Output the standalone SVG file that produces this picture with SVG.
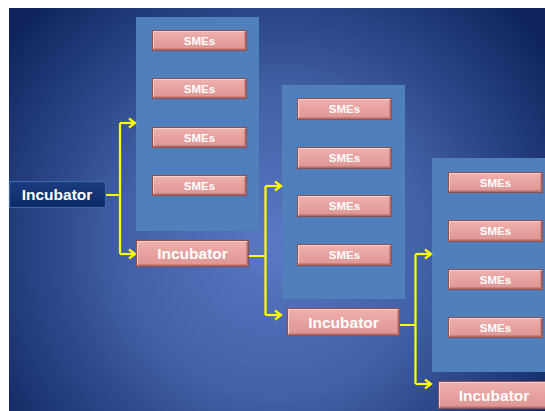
<svg xmlns="http://www.w3.org/2000/svg" width="545" height="411" viewBox="0 0 545 411">
  <defs>
    <radialGradient id="bg" gradientUnits="userSpaceOnUse" cx="275" cy="245" r="340">
      <stop offset="0" stop-color="#5a78c4"/>
      <stop offset="0.45" stop-color="#4160a6"/>
      <stop offset="1" stop-color="#0e235d"/>
    </radialGradient>
    <linearGradient id="pink" x1="0" y1="0" x2="0" y2="1">
      <stop offset="0" stop-color="#efb2af"/>
      <stop offset="0.5" stop-color="#e7a19e"/>
      <stop offset="1" stop-color="#dd9592"/>
    </linearGradient>
    <linearGradient id="navy" x1="0" y1="0" x2="0" y2="1">
      <stop offset="0" stop-color="#1a3d80"/>
      <stop offset="1" stop-color="#0d2a66"/>
    </linearGradient>
    <marker id="arr" markerUnits="userSpaceOnUse" markerWidth="14" markerHeight="14" refX="9" refY="7" orient="auto">
      <path d="M3,2.5 L9,7 L3,11.5" fill="none" stroke="#ffff00" stroke-width="2.2" stroke-linejoin="miter"/>
    </marker>
  </defs>
  <style>
    .panel { fill: #4f80bc; }
    .pk { fill: url(#pink); stroke: #8e4f4d; stroke-width: 1; }
    .hl { fill: none; stroke: #f8cfcd; stroke-width: 1; }
    .sh { fill: none; stroke: #b46d6a; stroke-width: 1.5; }
    .nv { fill: url(#navy); stroke: #3f66aa; stroke-width: 1.2; }
    .t { font-family: "Liberation Sans", Arial, sans-serif; font-weight: bold; fill: #ffffff; text-anchor: middle; }
    .s { font-size: 11.5px; }
    .i { font-size: 15.5px; }
    .c { fill: none; stroke: #ffff00; stroke-width: 2.2; }
  </style>

  <rect x="0" y="0" width="545" height="411" fill="#ffffff"/>
  <rect x="9" y="8" width="536" height="403" fill="url(#bg)"/>

  <g id="panel1">
    <rect class="panel" x="136" y="17" width="123" height="214"/>
  </g>
  <g id="panel2">
    <rect class="panel" x="282" y="85" width="123" height="214"/>
  </g>
  <g id="panel3">
    <rect class="panel" x="432" y="158" width="113" height="214"/>
  </g>

  <g id="connectors">
    <path class="c" d="M106,195 H120 M120,123 V254"/>
    <path class="c" d="M120,123 H135" marker-end="url(#arr)"/>
    <path class="c" d="M120,254 H135" marker-end="url(#arr)"/>
    <path class="c" d="M249,256 H265.5 M265.5,186 V315"/>
    <path class="c" d="M265.5,186 H281" marker-end="url(#arr)"/>
    <path class="c" d="M265.5,315 H281" marker-end="url(#arr)"/>
    <path class="c" d="M400,325 H415.5 M415.5,254 V384"/>
    <path class="c" d="M415.5,254 H431" marker-end="url(#arr)"/>
    <path class="c" d="M415.5,384 H431" marker-end="url(#arr)"/>
  </g>

  <g id="incubator0">
    <rect class="nv" x="9.5" y="181.5" width="96" height="26"/>
    <text class="t i" x="57" y="200">Incubator</text>
  </g>

  <g id="sme1a"><rect class="pk" x="152.5" y="30.5" width="94" height="20"/><path class="hl" d="M153.5,49.5 V31.5 H245.5"/><path class="sh" d="M153.5,49.2 H245.2 V31.5"/><text class="t s" x="199.5" y="44.5">SMEs</text></g>
  <g id="sme1b"><rect class="pk" x="152.5" y="78.5" width="94" height="20"/><path class="hl" d="M153.5,97.5 V79.5 H245.5"/><path class="sh" d="M153.5,97.2 H245.2 V79.5"/><text class="t s" x="199.5" y="92.5">SMEs</text></g>
  <g id="sme1c"><rect class="pk" x="152.5" y="127.5" width="94" height="20"/><path class="hl" d="M153.5,146.5 V128.5 H245.5"/><path class="sh" d="M153.5,146.2 H245.2 V128.5"/><text class="t s" x="199.5" y="141.5">SMEs</text></g>
  <g id="sme1d"><rect class="pk" x="152.5" y="175.5" width="94" height="20"/><path class="hl" d="M153.5,194.5 V176.5 H245.5"/><path class="sh" d="M153.5,194.2 H245.2 V176.5"/><text class="t s" x="199.5" y="189.5">SMEs</text></g>

  <g id="incubator1"><rect class="pk" x="136.5" y="240.5" width="112" height="26"/><path class="hl" d="M137.5,265.5 V241.5 H247.5"/><path class="sh" d="M137.5,265.2 H247.2 V241.5"/><text class="t i" x="192.5" y="259">Incubator</text></g>

  <g id="sme2a"><rect class="pk" x="297.5" y="98.5" width="94" height="21"/><path class="hl" d="M298.5,118.5 V99.5 H390.5"/><path class="sh" d="M298.5,118.2 H390.2 V99.5"/><text class="t s" x="344.5" y="113">SMEs</text></g>
  <g id="sme2b"><rect class="pk" x="297.5" y="147.5" width="94" height="21"/><path class="hl" d="M298.5,167.5 V148.5 H390.5"/><path class="sh" d="M298.5,167.2 H390.2 V148.5"/><text class="t s" x="344.5" y="162">SMEs</text></g>
  <g id="sme2c"><rect class="pk" x="297.5" y="195.5" width="94" height="21"/><path class="hl" d="M298.5,215.5 V196.5 H390.5"/><path class="sh" d="M298.5,215.2 H390.2 V196.5"/><text class="t s" x="344.5" y="210">SMEs</text></g>
  <g id="sme2d"><rect class="pk" x="297.5" y="244.5" width="94" height="21"/><path class="hl" d="M298.5,264.5 V245.5 H390.5"/><path class="sh" d="M298.5,264.2 H390.2 V245.5"/><text class="t s" x="344.5" y="259">SMEs</text></g>

  <g id="incubator2"><rect class="pk" x="287.5" y="308.5" width="112" height="27"/><path class="hl" d="M288.5,334.5 V309.5 H398.5"/><path class="sh" d="M288.5,334.2 H398.2 V309.5"/><text class="t i" x="343.5" y="327.5">Incubator</text></g>

  <g id="sme3a"><rect class="pk" x="448.5" y="172.5" width="94" height="20"/><path class="hl" d="M449.5,191.5 V173.5 H541.5"/><path class="sh" d="M449.5,191.2 H541.2 V173.5"/><text class="t s" x="495.5" y="186.5">SMEs</text></g>
  <g id="sme3b"><rect class="pk" x="448.5" y="220.5" width="94" height="21"/><path class="hl" d="M449.5,240.5 V221.5 H541.5"/><path class="sh" d="M449.5,240.2 H541.2 V221.5"/><text class="t s" x="495.5" y="235">SMEs</text></g>
  <g id="sme3c"><rect class="pk" x="448.5" y="269.5" width="94" height="20"/><path class="hl" d="M449.5,288.5 V270.5 H541.5"/><path class="sh" d="M449.5,288.2 H541.2 V270.5"/><text class="t s" x="495.5" y="283.5">SMEs</text></g>
  <g id="sme3d"><rect class="pk" x="448.5" y="317.5" width="94" height="20"/><path class="hl" d="M449.5,336.5 V318.5 H541.5"/><path class="sh" d="M449.5,336.2 H541.2 V318.5"/><text class="t s" x="495.5" y="331.5">SMEs</text></g>

  <g id="incubator3"><rect class="pk" x="438.5" y="381.5" width="112" height="27"/><path class="hl" d="M439.5,407.5 V382.5 H549.5"/><path class="sh" d="M439.5,407.2 H549.2 V382.5"/><text class="t i" x="494" y="400.5">Incubator</text></g>
</svg>
